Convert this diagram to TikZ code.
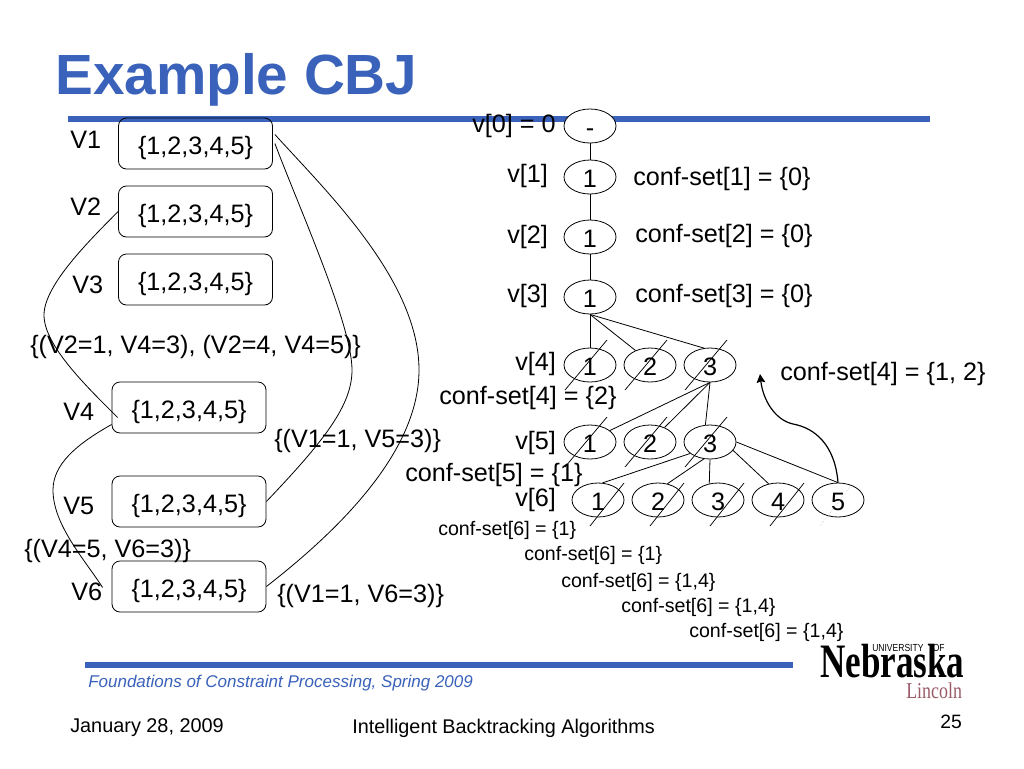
\documentclass[tikz,border=0pt]{standalone}
\usepackage{fontspec}
\usepackage{graphicx}
\setmainfont{Liberation Sans}
\newfontfamily\logofont{Liberation Serif}
\usetikzlibrary{shapes.geometric,arrows.meta}
\definecolor{slideblue}{HTML}{3A62BB}
\definecolor{lincolnred}{HTML}{9A5A66}
\newcommand{\fs}[1]{\fontsize{#1pt}{#1pt}\selectfont}
\tikzset{
  x=0.75pt,y=-0.75pt,
  lbl/.style={anchor=base west,inner sep=0pt,font=\fs{18.9}},
  small/.style={anchor=base west,inner sep=0pt,font=\fs{14.7}},
  dombox/.style={draw,rounded corners=6pt,minimum width=115.5pt,minimum height=38.25pt,inner sep=0pt,font=\fs{18.9},line width=0.6pt,text height=16pt,text depth=0pt},
  val/.style={draw,fill=white,ellipse,minimum width=39pt,minimum height=25.5pt,inner sep=0pt,font=\fs{18.9},line width=0.6pt,text height=15pt,text depth=0pt},
  edge/.style={line width=0.6pt},
  slash/.style={line width=0.55pt},
  bar/.style={draw=slideblue,line width=4.5pt}
}
\newcommand{\xout}[1]{\draw[slash] ([shift={(-25,25)}]#1.center) -- ([shift={(17,-25)}]#1.center);}
\newcommand{\xoutb}[1]{\draw[slash] ([shift={(-8,26)}]#1.center) -- ([shift={(26,-17)}]#1.center);}
\begin{document}
\begin{tikzpicture}
\useasboundingbox (0,0) rectangle (1024,768);
\fill[white] (0,0) rectangle (1024,768);
% title and bars
\node[anchor=base west,inner sep=0pt,font=\fs{42.5}\bfseries,text=slideblue] (title) at (55,94) {Example CBJ};
\coordinate (bar1a) at (68,119); \coordinate (bar1b) at (930,119);
\draw[bar] (bar1a) -- (bar1b);
\coordinate (bar2a) at (85,665); \coordinate (bar2b) at (793,665);
\draw[bar] (bar2a) -- (bar2b);
% domains
\node[dombox] (b1) at (195.5,143.5) {\{1,2,3,4,5\}};
\node[dombox] (b2) at (195.5,211.5) {\{1,2,3,4,5\}};
\node[dombox] (b3) at (195.5,279.5) {\{1,2,3,4,5\}};
\node[dombox] (b4) at (189,407.5) {\{1,2,3,4,5\}};
\node[dombox] (b5) at (189,501.5) {\{1,2,3,4,5\}};
\node[dombox] (b6) at (189,586.5) {\{1,2,3,4,5\}};
\node[lbl] (n1) at (70,148) {V1};
\node[lbl] (n2) at (70,215) {V2};
\node[lbl] (n3) at (72,293) {V3};
\node[lbl] (n4) at (63,420) {V4};
\node[lbl] (n5) at (63,514) {V5};
\node[lbl] (n6) at (71,600) {V6};
% constraints
\draw[edge] ([shift={(2,0)}]b1.east) .. controls (300,210) and (352,325) .. (352,370) .. controls (352,405) and (325,440) .. (b5.east);
\draw[edge] ([shift={(2,-9)}]b1.east) .. controls (325,190) and (419,280) .. (419,370) .. controls (419,445) and (352,520) .. (b6.east);
\draw[edge] (b2.west) .. controls (90,240) and (44,285) .. (44,315) .. controls (44,345) and (85,385) .. ([shift={(6,10)}]b4.west);
\draw[edge] ([shift={(0,17)}]b4.west) .. controls (75,445) and (53,465) .. (53,490) .. controls (53,525) and (85,560) .. ([shift={(-9,1)}]b6.west);
\node[lbl] (c1) at (30,353) {\{(V2=1, V4=3), (V2=4, V4=5)\}};
\node[lbl] (c2) at (274,447) {\{(V1=1, V5=3)\}};
\node[lbl] (c3) at (24,557) {\{(V4=5, V6=3)\}};
\node[lbl] (c4) at (277,602) {\{(V1=1, V6=3)\}};
% search tree
\node[val] (e0) at (590,126) {-};
\node[val] (e1) at (590,177) {1};
\node[val] (e2) at (590,237) {1};
\node[val] (e3) at (590,297) {1};
\node[val] (e41) at (590,365) {1};
\node[val] (e42) at (650,365) {2};
\node[val] (e43) at (710,365) {3};
\node[val] (e51) at (590,442) {1};
\node[val] (e52) at (650,442) {2};
\node[val] (e53) at (710,442) {3};
\node[val] (e61) at (598,500) {1};
\node[val] (e62) at (658,500) {2};
\node[val] (e63) at (718,500) {3};
\node[val] (e64) at (778,500) {4};
\node[val] (e65) at (838,500) {5};
\draw[edge] (e0) -- (e1);
\draw[edge] (e1) -- (e2);
\draw[edge] (e2) -- (e3);
\draw[edge] (e3.south) -- (e41.north);
\draw[edge] (e3.south) -- (e42.135);
\draw[edge] (e3.south) -- (e43.110);
\draw[edge] (e43.south) -- (e51.30);
\draw[edge] (e43.south) -- (e52.45);
\draw[edge] (e43.south) -- (e53.105);
\draw[edge] (e53.210) -- (e61.75);
\draw[edge] (e53.250) -- (e62.60);
\draw[edge] (e53.south) -- (e63.118);
\draw[edge] (e53.340) -- (e64.120);
\draw[edge] (e53.east) -- (e65.north);
\xout{e41}\xout{e42}\xout{e43}\xout{e51}\xout{e52}\xout{e53}
\xoutb{e61}\xoutb{e62}\xoutb{e63}\xoutb{e64}
\draw[gray!45,line width=0.4pt,densely dotted] ([shift={(-18,26)}]e65.center) -- ([shift={(15,-17)}]e65.center);
\coordinate (backjump) at (760,374);
\draw[line width=0.9pt,-{Stealth[length=6.5pt,width=6.5pt,inset=1pt]}] (e65.north) .. controls (835,445) and (815,428) .. (793,424) .. controls (775,420) and (763,400) .. (backjump);
\node[lbl] (v0) at (472,132) {v[0] = 0};
\node[lbl] (v1) at (507,182) {v[1]};
\node[lbl] (v2) at (507,243) {v[2]};
\node[lbl] (v3) at (507,302) {v[3]};
\node[lbl] (v4) at (515,370) {v[4]};
\node[lbl] (v5) at (515,449) {v[5]};
\node[lbl] (v6) at (515,506) {v[6]};
\node[lbl] (s1) at (633,185) {conf-set[1] = \{0\}};
\node[lbl] (s2) at (635,242) {conf-set[2] = \{0\}};
\node[lbl] (s3) at (635,302) {conf-set[3] = \{0\}};
\node[lbl] (s4a) at (780,380) {conf-set[4] = \{1, 2\}};
\node[lbl] (s4b) at (439,404) {conf-set[4] = \{2\}};
\node[lbl] (s5) at (405,481) {conf-set[5] = \{1\}};
\node[small] (s61) at (438,535) {conf-set[6] = \{1\}};
\node[small] (s62) at (524,560) {conf-set[6] = \{1\}};
\node[small] (s63) at (561,587) {conf-set[6] = \{1,4\}};
\node[small] (s64) at (621,612) {conf-set[6] = \{1,4\}};
\node[small] (s65) at (689,637) {conf-set[6] = \{1,4\}};
% footer
\node[anchor=base west,inner sep=0pt,font=\fs{12.75}\itshape,text=slideblue] (foot) at (88,687) {Foundations of Constraint Processing, Spring 2009};
\node[anchor=base west,inner sep=0pt,font=\fs{14.9}] (date) at (70,732) {January 28, 2009};
\node[anchor=base west,inner sep=0pt,font=\fs{14.85}] (talk) at (352,733) {Intelligent Backtracking Algorithms};
\node[anchor=base west,inner sep=0pt,font=\fs{14.5}] (page) at (940,728) {25};
% logo
\node[anchor=base west,inner sep=0pt,font=\logofont\fs{36}\bfseries] (neb) at (820,677) {\scalebox{0.73}[1]{Nebraska}};
\node[anchor=base west,inner sep=0pt,font=\fs{6.4}] (univ) at (872,651) {\scalebox{1}[1.2]{UNIVERSITY\hspace{7pt}OF}};
\node[anchor=base west,inner sep=0pt,font=\logofont\fs{17},text=lincolnred] (linc) at (906,698) {\scalebox{0.79}[1]{Lincoln}};
\end{tikzpicture}
\end{document}
